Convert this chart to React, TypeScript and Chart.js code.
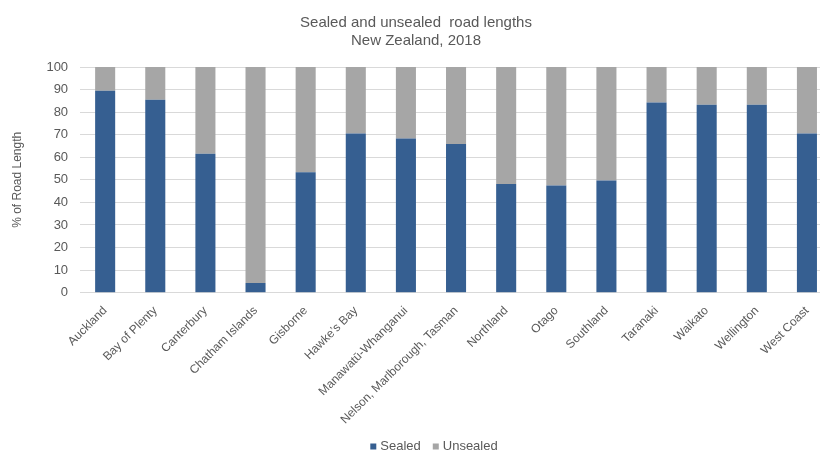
import React, { useEffect, useRef } from "react";
import { Chart, registerables } from "chart.js";

Chart.register(...registerables);

const regions = [
  "Auckland",
  "Bay of Plenty",
  "Canterbury",
  "Chatham Islands",
  "Gisborne",
  "Hawke\u2019s Bay",
  "Manawat\u016b-Whanganui",
  "Nelson, Marlborough, Tasman",
  "Northland",
  "Otago",
  "Southland",
  "Taranaki",
  "Waikato",
  "Wellington",
  "West Coast",
];

const sealed = [89.5, 85.5, 61.6, 4.3, 53.3, 70.5, 68.3, 65.9, 48.1, 47.5, 49.7, 84.3, 83.3, 83.3, 70.5];
const unsealed = sealed.map((v) => Math.round((100 - v) * 10) / 10);

const titleLines = ["Sealed and unsealed  road lengths", "New Zealand, 2018"];
const yAxisTitle = "% of Road Length";

const FONT = "'Liberation Sans', Arial, sans-serif";
const TEXT = "#595959";

// Simple bottom legend drawn from the datasets (small square + label).
const bottomLegend = {
  id: "bottomLegend",
  afterDraw(chart: any) {
    const ctx = chart.ctx;
    const items = chart.data.datasets.map((d: any) => ({ text: d.label, color: d.backgroundColor }));
    const box = 6;
    const gapBoxText = 4;
    const gapItems = 12;
    ctx.save();
    ctx.font = `13px ${FONT}`;
    const widths = items.map((it: any) => box + gapBoxText + ctx.measureText(it.text).width);
    const total = widths.reduce((a: number, b: number) => a + b, 0) + gapItems * (items.length - 1);
    const cx = chart.width / 2 + 18;
    const cy = chart.height - 8;
    let x = cx - total / 2;
    ctx.textBaseline = "middle";
    ctx.textAlign = "left";
    items.forEach((it: any, i: number) => {
      ctx.fillStyle = it.color;
      ctx.fillRect(x, cy - box / 2 + 0.5, box, box);
      ctx.fillStyle = TEXT;
      ctx.fillText(it.text, x + box + gapBoxText, cy);
      x += widths[i] + gapItems;
    });
    ctx.restore();
  },
};

export default function App() {
  const ref = useRef<HTMLCanvasElement | null>(null);
  useEffect(() => {
    if (!ref.current) return;
    const chart = new Chart(ref.current, {
      type: "bar",
      data: {
        labels: regions,
        datasets: [
          { label: "Sealed", data: sealed, backgroundColor: "#365f91", borderWidth: 0 },
          { label: "Unsealed", data: unsealed, backgroundColor: "#a6a6a6", borderWidth: 0 },
        ],
      },
      plugins: [bottomLegend],
      options: {
        responsive: false,
        animation: false,
        layout: { padding: { left: 0, right: 0, top: 0, bottom: 24 } },
        datasets: { bar: { barPercentage: 0.4, categoryPercentage: 1 } },
        plugins: {
          title: {
            display: true,
            text: titleLines,
            color: TEXT,
            font: { family: FONT, size: 15, weight: "normal", lineHeight: 1.2 },
            padding: { top: 14, bottom: 17 },
          },
          legend: { display: false },
          tooltip: { enabled: false },
        },
        scales: {
          x: {
            stacked: true,
            grid: { display: false },
            border: { display: false },
            ticks: {
              color: TEXT,
              font: { family: FONT, size: 12 },
              minRotation: 45,
              maxRotation: 45,
              autoSkip: false,
              padding: 3,
            },
          },
          y: {
            stacked: true,
            min: 0,
            max: 100,
            border: { display: false },
            grid: { color: "#d9d9d9", drawTicks: false },
            ticks: {
              stepSize: 10,
              color: TEXT,
              font: { family: FONT, size: 13 },
              padding: 12,
            },
            title: {
              display: true,
              text: yAxisTitle,
              color: TEXT,
              font: { family: FONT, size: 12 },
              padding: { top: 10, bottom: 10 },
            },
          },
        },
      },
    });
    return () => chart.destroy();
  }, []);
  return (
    <div style={{ position: "fixed", left: 0, top: 0, width: 820, height: 454, overflow: "hidden", background: "#fff" }}>
      <canvas ref={ref} width={832} height={454} style={{ display: "block" }} />
    </div>
  );
}
